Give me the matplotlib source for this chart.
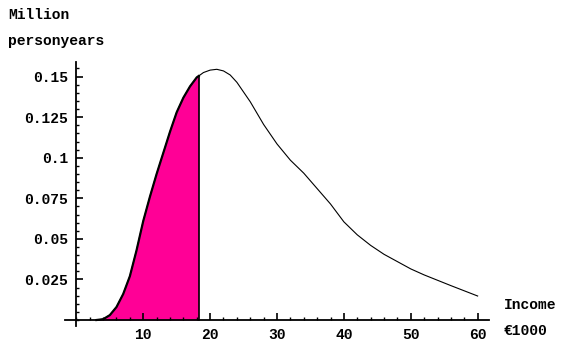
import numpy as np
import matplotlib
matplotlib.use('Agg')
import matplotlib.pyplot as plt
from matplotlib.ticker import MultipleLocator

# income (thousand euro) and density (million personyears)
income = [3, 4, 5, 6, 7, 8, 9, 10, 11, 12, 13, 14, 15, 16, 17, 18, 19, 20, 21,
          22, 23, 24, 26, 28, 30, 32, 34, 36, 38, 40, 42, 44, 46, 48, 50, 52,
          54, 56, 58, 60]
persons = [0.0, 0.0005, 0.003, 0.008, 0.016, 0.027, 0.043, 0.061, 0.076, 0.090,
           0.103, 0.116, 0.128, 0.137, 0.144, 0.1495, 0.1525, 0.154, 0.1545,
           0.1535, 0.151, 0.1465, 0.1345, 0.1205, 0.1085, 0.0985, 0.0905,
           0.081, 0.0715, 0.0605, 0.0525, 0.046, 0.0405, 0.036, 0.0315,
           0.0278, 0.0245, 0.0212, 0.018, 0.0148]
cutoff = 18.3

xticks = [10, 20, 30, 40, 50, 60]
yticks = [0.025, 0.05, 0.075, 0.1, 0.125, 0.15]
ylabels = ['0.025', '0.05', '0.075', '0.1', '0.125', '0.15']

font = ['Liberation Mono', 'DejaVu Sans Mono']
plt.rcParams['font.family'] = font
fs = 10.5

fig = plt.figure(figsize=(5.74, 3.45), dpi=100)
ax = fig.add_axes([65 / 574, (345 - 325.7) / 345, 424 / 574, (325.7 - 62) / 345])

x = np.array(income, dtype=float)
y = np.array(persons)
y_cut = np.interp(cutoff, x, y)
xs = np.append(x[x < cutoff], cutoff)
ys = np.append(y[x < cutoff], y_cut)

ax.fill_between(xs, 0, ys, color='#ff0096', lw=0)
ax.plot(xs, ys, color='black', lw=1.6)
ax.plot(x, y, color='black', lw=0.8)
ax.plot([cutoff, cutoff], [0, y_cut], color='black', lw=1.2)

ax.set_xlim(-1.7, 61.7)
ax.set_ylim(-0.0035, 0.159)

for s in ['top', 'right']:
    ax.spines[s].set_visible(False)
ax.spines['left'].set_position(('data', 0))
ax.spines['bottom'].set_position(('data', 0))
ax.spines['left'].set_linewidth(1.3)
ax.spines['bottom'].set_linewidth(1.3)

ax.set_xticks(xticks)
ax.set_yticks(yticks)
ax.set_yticklabels(ylabels)
ax.xaxis.set_minor_locator(MultipleLocator(2))
ax.yaxis.set_minor_locator(MultipleLocator(0.005))
ax.tick_params(which='major', direction='in', length=5, width=1.2, labelsize=fs, pad=6)
ax.tick_params(which='minor', direction='in', length=2.5, width=1.0)
for lab in ax.get_xticklabels() + ax.get_yticklabels():
    lab.set_fontweight('bold')

fig.text(8 / 574, 1 - 15 / 345, 'Million', fontsize=fs, fontweight='bold', va='center')
fig.text(8 / 574, 1 - 41 / 345, 'personyears', fontsize=fs, fontweight='bold', va='center')
fig.text(504 / 574, 1 - 305 / 345, 'Income', fontsize=fs, fontweight='bold', va='center')
fig.text(504 / 574, 1 - 331 / 345, '€1000', fontsize=fs, fontweight='bold', va='center')

fig.savefig('out.png', dpi=100)
